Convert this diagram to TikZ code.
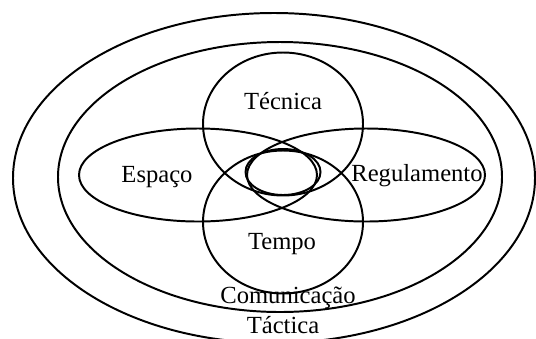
\documentclass[tikz,border=0pt]{standalone}
\usepackage{fontspec}
\setmainfont{Liberation Serif}
\begin{document}
\begin{tikzpicture}[x=0.025cm, y=-0.025cm, line width=1.4pt]
        \tikzset{lbl/.style={font=\fontsize{17.5}{20}\selectfont, inner sep=0pt}}
        \useasboundingbox (0,0) rectangle (536,338);
        \clip (0,0) rectangle (536,338);

        % outer ellipses
        \draw (274,178) ellipse (261 and 165);
        \draw (280,177) ellipse (222 and 135);

        % horizontal ellipses
        \draw (198,175) ellipse (119 and 46.5);
        \draw (366,175) ellipse (119 and 46.5);

        % vertical circles
        \draw (283,124) ellipse (80 and 71.5);
        \draw (283,222) ellipse (80 and 71.5);

        % centre
        \draw (283,172) ellipse (37.5 and 23);

        % labels
        \node[lbl] (tecnica) at (283,101) {Técnica};
        \node[lbl] (espaco) at (157,177) {Espaço};
        \node[lbl] (regulamento) at (417,176) {Regulamento};
        \node[lbl] (tempo) at (282,244) {Tempo};
        \node[lbl] (comunicacao) at (288,298) {Comunicação};
        \node[lbl] (tactica) at (283,325) {Táctica};
    \end{tikzpicture}
\end{document}
